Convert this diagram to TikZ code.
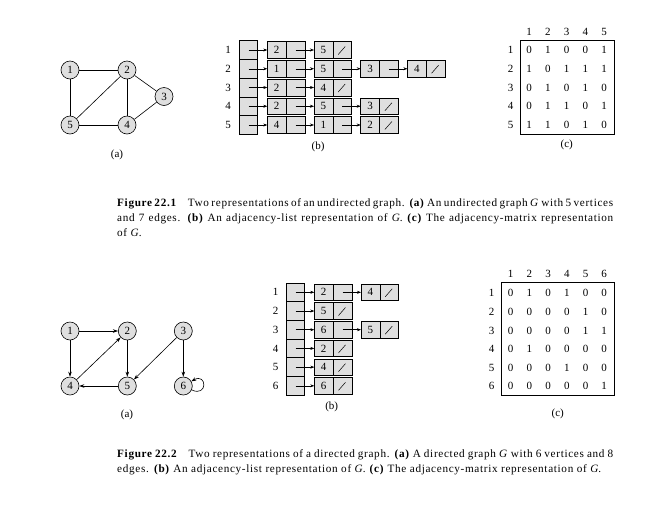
\documentclass[tikz,border=0pt]{standalone}
\usepackage{fontspec}
\setmainfont{Liberation Serif}
\usetikzlibrary{arrows.meta,positioning,calc}

\tikzset{
  vertex/.style={circle, draw, fill=gray!25, minimum size=18pt, inner sep=0pt, line width=0.6pt, font=\fontsize{11}{11}\selectfont},
  cell/.style={draw, fill=gray!25, minimum width=18.4pt, minimum height=18.75pt, inner sep=0pt, outer sep=0pt, line width=0.6pt},
  keybox/.style={draw, fill=gray!25, minimum width=18.8pt, minimum height=16.6pt, inner sep=0pt, outer sep=0pt, line width=0.6pt, font=\fontsize{11}{11}\selectfont},
  nextbox/.style={keybox},
  nilbox/.style={keybox, path picture={\draw[line width=0.5pt] ([shift={(-4pt,-4.5pt)}]path picture bounding box.center) -- ([shift={(3pt,3.5pt)}]path picture bounding box.center);}},
  ptr/.style={-{Stealth[length=4pt,width=3pt]}, line width=0.5pt},
  arc/.style={-{Stealth[length=5pt,width=3.5pt]}, line width=0.6pt},
  lbl/.style={font=\fontsize{11}{11}\selectfont},
  caption/.style={anchor=base west, text width=496pt, align=justify, inner sep=0pt, font=\fontsize{11.2}{15}\selectfont\addfontfeatures{LetterSpace=6}},
}

\begin{document}
\begin{tikzpicture}[x=1pt,y=1pt]
    \useasboundingbox (0,0) rectangle (660,-504);

    % Figure 22.1 (a): undirected graph
    \node[vertex] (u1) at (70,-70) {1};
    \node[vertex] (u2) at (127,-70) {2};
    \node[vertex] (u3) at (164,-96.5) {3};
    \node[vertex] (u4) at (127,-125) {4};
    \node[vertex] (u5) at (70,-125) {5};
    \draw[line width=0.6pt] (u1) -- (u2);
    \draw[line width=0.6pt] (u1) -- (u5);
    \draw[line width=0.6pt] (u2) -- (u5);
    \draw[line width=0.6pt] (u2) -- (u4);
    \draw[line width=0.6pt] (u2) -- (u3);
    \draw[line width=0.6pt] (u3) -- (u4);
    \draw[line width=0.6pt] (u5) -- (u4);
    \node[lbl] (ua) at (117,-155) {(a)};

    % Figure 22.1 (b): adjacency lists
    \foreach \r/\len/\items in {1/2/{2,5}, 2/4/{1,5,3,4}, 3/2/{2,4}, 4/3/{2,5,3}, 5/3/{4,1,2}} {
        \pgfmathsetmacro\y{-50-18.75*(\r-1)}
        \node[lbl] (ul\r) at (228,\y) {\r};
        \node[cell] (uc\r) at (248.5,\y) {};
        \foreach \v [count=\k] in \items {
            \pgfmathsetmacro\x{276.7+46.7*(\k-1)}
            \pgfmathtruncatemacro\prev{\k-1}
            \ifnum\k=\len \def\nsty{nilbox}\else\def\nsty{nextbox}\fi
            \node[keybox] (uk\r\k) at (\x,\y) {\v};
            \node[\nsty, right=0pt of uk\r\k] (un\r\k) {};
            \ifnum\k=1
                \draw[ptr] (uc\r.center) -- (uk\r\k.west);
            \else
                \draw[ptr] (un\r\prev.center) -- (uk\r\k.west);
            \fi
        }
    }
    \node[lbl] (ub) at (318,-147) {(b)};

    % Figure 22.1 (c): adjacency matrix
    \foreach \c in {1,...,5}
        \node[lbl] (uh\c) at ({529+18.75*(\c-1)},-31.7) {\c};
    \foreach \r/\row in {1/{0,1,0,0,1}, 2/{1,0,1,1,1}, 3/{0,1,0,1,0}, 4/{0,1,1,0,1}, 5/{1,1,0,1,0}} {
        \node[lbl] (ur\r) at (510.7,{-50-18.75*(\r-1)}) {\r};
        \foreach \v [count=\c] in \row
            \node[lbl] (um\r\c) at ({529+18.75*(\c-1)},{-50-18.75*(\r-1)}) {\v};
    }
    \draw[line width=0.7pt] (520.7,-40) rectangle (614.3,-134.3);
    \node[lbl] (uq) at (566.7,-145) {(c)};

    \node[caption] (cap1) at (117,-206.5) {\textbf{Figure 22.1}\quad Two representations of an undirected graph. \textbf{(a)} An undirected graph \textit{G} with 5 vertices\linebreak and 7 edges. \textbf{(b)} An adjacency-list representation of \textit{G}. \textbf{(c)} The adjacency-matrix representation\linebreak of \textit{G}.};

    % Figure 22.2 (a): directed graph
    \node[vertex] (d1) at (70,-331) {1};
    \node[vertex] (d2) at (127.3,-331) {2};
    \node[vertex] (d3) at (183.3,-331) {3};
    \node[vertex] (d4) at (70,-386) {4};
    \node[vertex] (d5) at (127.3,-386) {5};
    \node[vertex] (d6) at (183.3,-386) {6};
    \draw[arc] (d1) -- (d2);
    \draw[arc] (d1) -- (d4);
    \draw[arc] (d2) -- (d5);
    \draw[arc] (d4) -- (d2);
    \draw[arc] (d5) -- (d4);
    \draw[arc] (d3) -- (d5);
    \draw[arc] (d3) -- (d6);
    \draw[arc] (d6) to[out=-25, in=30, distance=18pt] (d6);
    \node[lbl] (da) at (127,-415) {(a)};

    % Figure 22.2 (b): adjacency lists
    \foreach \r/\len/\items in {1/2/{2,4}, 2/1/{5}, 3/2/{6,5}, 4/1/{2}, 5/1/{4}, 6/1/{6}} {
        \pgfmathsetmacro\y{-292.3-18.7*(\r-1)}
        \node[lbl] (dl\r) at (275.7,\y) {\r};
        \node[cell, minimum height=18.7pt, minimum width=17.6pt] (dc\r) at (295.5,\y) {};
        \foreach \v [count=\k] in \items {
            \pgfmathsetmacro\x{323.7+46.7*(\k-1)}
            \pgfmathtruncatemacro\prev{\k-1}
            \ifnum\k=\len \def\nsty{nilbox}\else\def\nsty{nextbox}\fi
            \node[keybox] (dk\r\k) at (\x,\y) {\v};
            \node[\nsty, right=0pt of dk\r\k] (dn\r\k) {};
            \ifnum\k=1
                \draw[ptr] (dc\r.center) -- (dk\r\k.west);
            \else
                \draw[ptr] (dn\r\prev.center) -- (dk\r\k.west);
            \fi
        }
    }
    \node[lbl] (db) at (331.7,-407) {(b)};

    % Figure 22.2 (c): adjacency matrix
    \foreach \c in {1,...,6}
        \node[lbl] (dh\c) at ({510.7+18.7*(\c-1)},-274) {\c};
    \foreach \r/\row in {1/{0,1,0,1,0,0}, 2/{0,0,0,0,1,0}, 3/{0,0,0,0,1,1}, 4/{0,1,0,0,0,0}, 5/{0,0,0,1,0,0}, 6/{0,0,0,0,0,1}} {
        \node[lbl] (dr\r) at (491.7,{-293.3-18.6*(\r-1)}) {\r};
        \foreach \v [count=\c] in \row
            \node[lbl] (dm\r\c) at ({510.7+18.7*(\c-1)},{-293.3-18.6*(\r-1)}) {\v};
    }
    \draw[line width=0.7pt] (501.7,-282.3) rectangle (614.3,-395);
    \node[lbl] (dq) at (557.7,-414.3) {(c)};

    \node[caption] (cap2) at (117,-457.5) {\textbf{Figure 22.2}\quad Two representations of a directed graph. \textbf{(a)} A directed graph \textit{G} with 6 vertices and 8\linebreak edges. \textbf{(b)} An adjacency-list representation of \textit{G}. \textbf{(c)} The adjacency-matrix representation of \textit{G}.};
\end{tikzpicture}
\end{document}
